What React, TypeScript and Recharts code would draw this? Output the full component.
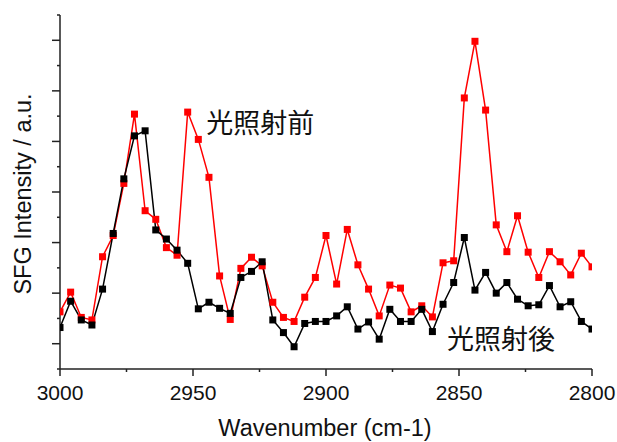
import React from 'react';
import { LineChart, Line, XAxis, YAxis, ReferenceDot } from 'recharts';

const wavenumbers = [
  3000, 2996, 2992, 2988, 2984, 2980, 2976, 2972, 2968, 2964,
  2960, 2956, 2952, 2948, 2944, 2940, 2936, 2932, 2928, 2924,
  2920, 2916, 2912, 2908, 2904, 2900, 2896, 2892, 2888, 2884,
  2880, 2876, 2872, 2868, 2864, 2860, 2856, 2852, 2848, 2844,
  2840, 2836, 2832, 2828, 2824, 2820, 2816, 2812, 2808, 2804,
  2800,
];

const beforeIrradiation = [
  11.3, 15.2, 10.2, 9.7, 22.2, 26.4, 36.7, 50.4, 31.3, 29.6,
  24.0, 22.5, 50.8, 45.4, 37.9, 18.4, 9.8, 19.9, 22.1, 20.4,
  13.2, 10.2, 9.4, 14.2, 18.1, 26.4, 16.8, 27.6, 20.6, 15.8,
  10.5, 16.6, 16.0, 11.3, 12.5, 10.3, 21.0, 21.4, 53.6, 64.8,
  51.2, 28.5, 23.2, 30.3, 23.1, 18.1, 23.2, 21.2, 18.6, 22.9,
  20.2,
];

const afterIrradiation = [
  8.2, 13.4, 9.7, 8.7, 15.8, 26.8, 37.6, 46.1, 47.1, 27.5,
  25.7, 23.5, 20.9, 11.9, 13.2, 12.0, 11.0, 18.1, 19.3, 21.2,
  9.7, 7.2, 4.4, 9.0, 9.4, 9.4, 10.5, 12.3, 7.9, 9.3,
  5.9, 11.8, 9.4, 9.4, 11.8, 7.4, 12.8, 17.1, 26.0, 15.6,
  19.1, 15.0, 17.1, 13.8, 12.5, 12.7, 16.5, 12.3, 13.3, 9.4,
  7.9,
];

const xTicks = [3000, 2975, 2950, 2925, 2900, 2875, 2850, 2825, 2800];
const xMajorTicks = [3000, 2950, 2900, 2850, 2800];
const yTicks = [0, 5, 10, 15, 20, 25, 30, 35, 40, 45, 50, 55, 60, 65, 70];
const yMajorTicks = [5, 15, 25, 35, 45, 55, 65];

const labelBefore = { text: '光照射前', x: 2945, y: 49.0 };
const labelAfter = { text: '光照射後', x: 2854.5, y: 6.2 };

const data = wavenumbers.map((wn, i) => ({
  wn,
  before: beforeIrradiation[i],
  after: afterIrradiation[i],
}));

const AXIS_COLOR = '#222';
const LATIN_FONT = '"Liberation Sans", Arial, sans-serif';
const CJK_FONT = '"Noto Sans CJK JP", "Noto Sans CJK SC", sans-serif';

const XTick = (props: any) => {
  const { x, y, payload } = props;
  const major = xMajorTicks.includes(payload.value);
  return (
    <g>
      <line x1={x} x2={x} y1={y} y2={y + (major ? 7 : 3)} stroke={AXIS_COLOR} strokeWidth={1.5} />
      {major && (
        <text x={x} y={y + 31} textAnchor="middle" fontSize={21} fontFamily={LATIN_FONT} fill="#111">
          {payload.value}
        </text>
      )}
    </g>
  );
};

const YTick = (props: any) => {
  const { x, y, payload } = props;
  const major = yMajorTicks.includes(payload.value);
  return (
    <line x1={x - (major ? 8 : 3)} x2={x} y1={y} y2={y} stroke={AXIS_COLOR} strokeWidth={1.5} />
  );
};

const SquareDot = (props: any) => {
  const { cx, cy, fill } = props;
  if (cx == null || cy == null) return null;
  const s = 7;
  return <rect x={cx - s / 2} y={cy - s / 2} width={s} height={s} fill={fill} />;
};

const makeAnnotation = (text: string) => (props: any) => {
  const vb = props.viewBox;
  return (
    <text
      x={vb.x}
      y={vb.y}
      textAnchor="start"
      dominantBaseline="central"
      fontSize={27}
      fontFamily={CJK_FONT}
      fill="#111"
    >
      {text}
    </text>
  );
};

const YLabel = (props: any) => {
  const vb = props.viewBox;
  const cx = vb.x + 31;
  const cy = vb.y + vb.height / 2 + 2;
  return (
    <text
      x={cx}
      y={cy}
      transform={`rotate(-90, ${cx}, ${cy})`}
      textAnchor="middle"
      fontSize={23.5}
      fontFamily={LATIN_FONT}
      fill="#111"
    >
      SFG Intensity / a.u.
    </text>
  );
};

const XLabel = (props: any) => {
  const vb = props.viewBox;
  return (
    <text
      x={vb.x + vb.width / 2 - 1}
      y={vb.y + 67}
      textAnchor="middle"
      fontSize={23.5}
      fontFamily={LATIN_FONT}
      fill="#111"
    >
      Wavenumber (cm-1)
    </text>
  );
};

export default function App() {
  return (
    <div
      style={{
        position: 'fixed',
        left: 0,
        top: 0,
        width: 617,
        height: 442,
        background: '#fff',
      }}
    >
      <LineChart
        width={617}
        height={442}
        data={data}
        margin={{ top: 15, right: 25, bottom: 0, left: 0 }}
      >
        <XAxis
          dataKey="wn"
          type="number"
          domain={[2800, 3000]}
          reversed
          allowDataOverflow
          ticks={xTicks}
          interval={0}
          tickSize={0}
          tickMargin={0}
          tickLine={false}
          tick={<XTick />}
          height={73}
          axisLine={{ stroke: AXIS_COLOR, strokeWidth: 1.5 }}
          label={XLabel}
        />
        <YAxis
          type="number"
          domain={[0, 70]}
          allowDataOverflow
          ticks={yTicks}
          interval={0}
          tickSize={0}
          tickMargin={0}
          tickLine={false}
          tick={<YTick />}
          width={60}
          axisLine={{ stroke: AXIS_COLOR, strokeWidth: 1.5 }}
          label={YLabel}
        />
        <Line
          dataKey="before"
          stroke="#ff0000"
          strokeWidth={1.5}
          fill="#ff0000"
          dot={<SquareDot />}
          activeDot={false}
          isAnimationActive={false}
        />
        <Line
          dataKey="after"
          stroke="#000000"
          strokeWidth={1.5}
          fill="#000000"
          dot={<SquareDot />}
          activeDot={false}
          isAnimationActive={false}
        />
        <ReferenceDot
          x={labelBefore.x}
          y={labelBefore.y}
          r={0}
          ifOverflow="visible"
          label={makeAnnotation(labelBefore.text)}
        />
        <ReferenceDot
          x={labelAfter.x}
          y={labelAfter.y}
          r={0}
          ifOverflow="visible"
          label={makeAnnotation(labelAfter.text)}
        />
      </LineChart>
    </div>
  );
}
